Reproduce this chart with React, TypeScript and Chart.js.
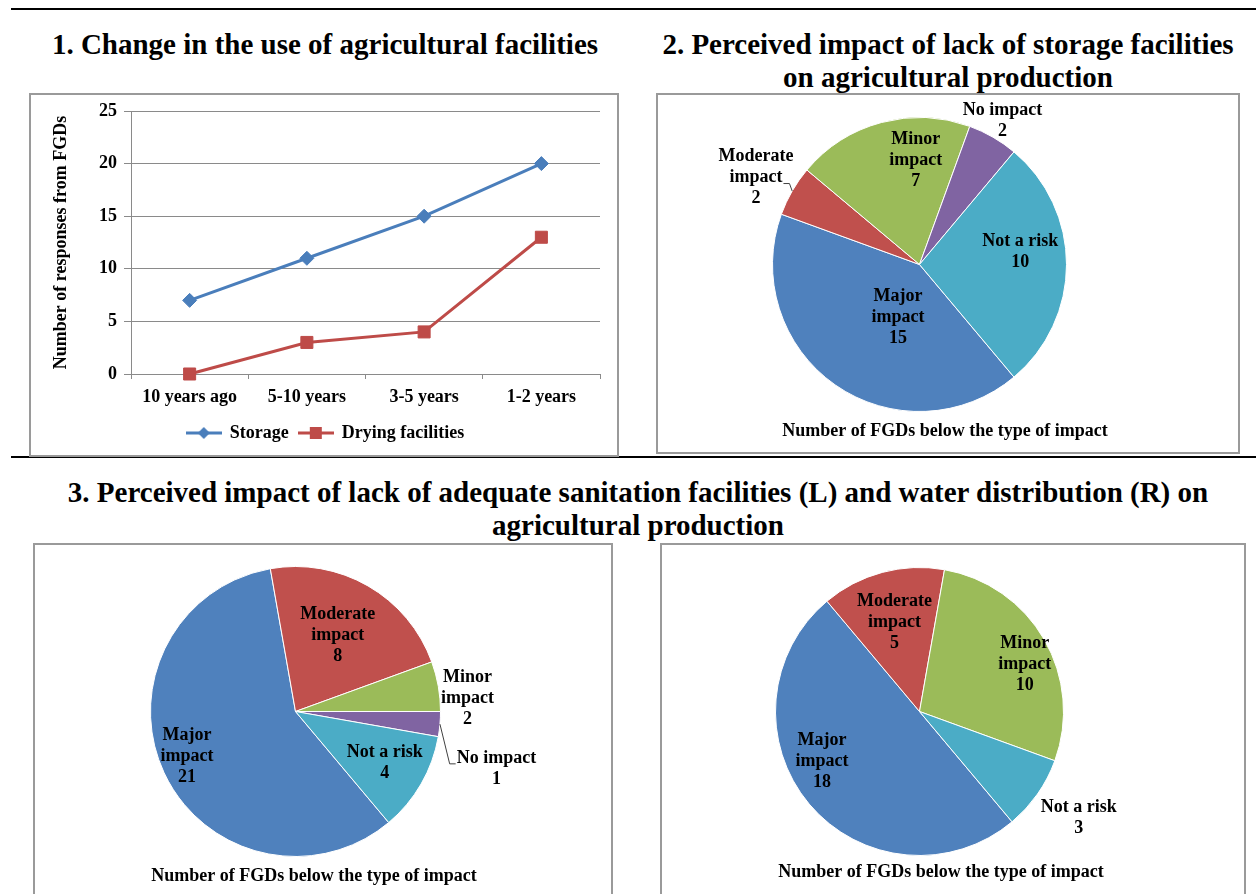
import React, { useEffect, useRef } from 'react';
import { Chart, registerables } from 'chart.js';

Chart.register(...registerables);

const FONT = '"Liberation Serif", "Times New Roman", serif';
Chart.defaults.font.family = FONT;
Chart.defaults.font.size = 18;
Chart.defaults.font.weight = 'bold';
Chart.defaults.color = '#000000';

// ---------- Chart 1 data ----------
const periods = ['10 years ago', '5-10 years', '3-5 years', '1-2 years'];
const storageValues = [7, 11, 15, 20];
const dryingValues = [0, 3, 4, 13];
const seriesNames = ['Storage', 'Drying facilities'];
const yAxisTitle = 'Number of responses from FGDs';

// ---------- Pie data ----------
const impactTypes = ['Major impact', 'Moderate impact', 'Minor impact', 'No impact', 'Not a risk'];
const storageImpact = [15, 2, 7, 2, 10];
const sanitationImpact = [21, 8, 2, 1, 4];
const waterImpact = [18, 5, 10, 0, 3];
const pieCaption = 'Number of FGDs below the type of impact';

// ---------- Titles ----------
const title1 = '1. Change in the use of agricultural facilities';
const title2 = ['2. Perceived impact of lack of storage facilities', 'on agricultural production'];
const title3 = [
  '3. Perceived impact of lack of adequate sanitation facilities (L) and water distribution (R) on',
  'agricultural production',
];

// ---------- Styles ----------
const impactColors = ['#4F81BD', '#C0504D', '#9BBB59', '#8064A2', '#4BACC6'];
const STORAGE_COLOR = '#4A7EBB';
const DRYING_COLOR = '#BE4B48';
const GRID = '#8a8a8a';
const BOX_BORDER = '2px solid #9a9a9a';

type LabelPos = { da: number; dr: number; leaderLine?: number };

const wrapLabel = (s: string): string[] =>
  s.endsWith(' impact') && s !== 'No impact' ? s.split(' ') : [s];

const pieLabelPlugin = {
  id: 'pieLabels',
  afterDatasetsDraw(chart: any, _args: any, opts: any) {
    const { ctx } = chart;
    const meta = chart.getDatasetMeta(0);
    const values: number[] = chart.data.datasets[0].data;
    const names: string[] = chart.data.labels;
    const positions: LabelPos[] = opts.positions;
    const lh = 21;
    ctx.save();
    ctx.font = `bold 18px ${FONT}`;
    ctx.fillStyle = '#000';
    ctx.textAlign = 'center';
    ctx.textBaseline = 'middle';
    meta.data.forEach((arc: any, i: number) => {
      const v = values[i];
      if (!v) return;
      const p = arc.getProps(['x', 'y', 'startAngle', 'endAngle', 'outerRadius'], true);
      const pos = positions[i];
      const mid = (p.startAngle + p.endAngle) / 2;
      const a = mid + (pos.da * Math.PI) / 180;
      const d = p.outerRadius * pos.dr;
      const lx = p.x + Math.cos(a) * d;
      const ly = p.y + Math.sin(a) * d;
      const lines = [...wrapLabel(names[i]), String(v)];
      lines.forEach((t, k) => {
        ctx.fillText(t, lx, ly + (k - (lines.length - 1) / 2) * lh);
      });
      if (pos.leaderLine !== undefined) {
        const k = pos.leaderLine;
        const w = ctx.measureText(lines[k]).width;
        const yLine = ly + (k - (lines.length - 1) / 2) * lh + 6;
        const ex = p.x + Math.cos(mid) * p.outerRadius;
        const ey = p.y + Math.sin(mid) * p.outerRadius;
        const right = ex > lx;
        const endX = right ? lx + w / 2 + 1 : lx - w / 2 - 1;
        const elbowX = right ? endX + 6 : endX - 6;
        ctx.strokeStyle = '#404040';
        ctx.lineWidth = 1;
        ctx.beginPath();
        ctx.moveTo(ex, ey);
        ctx.lineTo(elbowX, yLine);
        ctx.lineTo(endX, yLine);
        ctx.stroke();
      }
    });
    if (opts.caption) {
      ctx.fillText(opts.caption, opts.captionX, opts.captionY);
    }
    ctx.restore();
  },
};

function makeMarker(color: string, kind: 'diamond' | 'square'): HTMLCanvasElement {
  const c = document.createElement('canvas');
  c.width = 36;
  c.height = 14;
  const g = c.getContext('2d')!;
  g.strokeStyle = color;
  g.lineWidth = 3;
  g.beginPath();
  g.moveTo(0, 7);
  g.lineTo(36, 7);
  g.stroke();
  g.fillStyle = color;
  if (kind === 'diamond') {
    g.beginPath();
    g.moveTo(18, 1);
    g.lineTo(24, 7);
    g.lineTo(18, 13);
    g.lineTo(12, 7);
    g.closePath();
    g.fill();
  } else {
    g.fillRect(12, 1, 12, 12);
  }
  return c;
}

type Box = { left: number; top: number; width: number; height: number };

function Framed({ box, children }: { box: Box; children: React.ReactNode }) {
  return (
    <>
      <div style={{ position: 'absolute', left: box.left, top: box.top, width: box.width, height: box.height }}>
        {children}
      </div>
      <div
        style={{
          position: 'absolute',
          left: box.left,
          top: box.top,
          width: box.width,
          height: box.height,
          border: BOX_BORDER,
          boxSizing: 'border-box',
          pointerEvents: 'none',
        }}
      />
    </>
  );
}

function LineChartBox({ box }: { box: Box }) {
  const ref = useRef<HTMLCanvasElement>(null);
  useEffect(() => {
    const markers = [makeMarker(STORAGE_COLOR, 'diamond'), makeMarker(DRYING_COLOR, 'square')];
    const chart = new Chart(ref.current!, {
      type: 'line',
      data: {
        labels: periods,
        datasets: [
          {
            label: seriesNames[0],
            data: storageValues,
            borderColor: STORAGE_COLOR,
            backgroundColor: STORAGE_COLOR,
            borderWidth: 3,
            pointStyle: 'rectRot',
            pointRadius: 7,
            pointBorderWidth: 1,
            tension: 0,
            clip: false as any,
          },
          {
            label: seriesNames[1],
            data: dryingValues,
            borderColor: DRYING_COLOR,
            backgroundColor: DRYING_COLOR,
            borderWidth: 3,
            pointStyle: 'rect',
            pointRadius: 8.5,
            pointBorderWidth: 1,
            tension: 0,
            clip: false as any,
          },
        ],
      },
      options: {
        responsive: false,
        animation: false,
        layout: { padding: { left: 22, right: 19, top: 18, bottom: 5 } },
        scales: {
          x: {
            offset: true,
            grid: { offset: true, drawOnChartArea: false, drawTicks: true, tickLength: 5, color: GRID },
            border: { color: GRID, width: 1 },
            ticks: { padding: 8, color: '#000' },
            afterFit: (s: any) => {
              s.height = 40;
            },
          },
          y: {
            min: 0,
            max: 25,
            ticks: { stepSize: 5, padding: 7, color: '#000' },
            grid: { color: GRID, tickLength: 7 },
            border: { color: GRID, width: 1 },
            title: { display: true, text: yAxisTitle, padding: 0, color: '#000' },
            afterFit: (s: any) => {
              s.width = 80;
            },
          },
        },
        plugins: {
          legend: {
            position: 'bottom',
            labels: {
              usePointStyle: true,
              pointStyleWidth: 34,
              padding: 10,
              color: '#000',
              generateLabels: (c: any) => {
                const items = (Chart.defaults.plugins.legend.labels as any).generateLabels(c);
                items.forEach((it: any, i: number) => {
                  it.pointStyle = markers[i];
                });
                return items;
              },
            },
          },
          tooltip: { enabled: false },
        },
      } as any,
    });
    return () => chart.destroy();
  }, []);
  return (
    <Framed box={box}>
      <canvas ref={ref} width={box.width} height={box.height} style={{ width: box.width, height: box.height, display: 'block' }} />
    </Framed>
  );
}

function PieBox({
  box,
  values,
  positions,
  padding,
  captionX,
  captionY,
}: {
  box: Box;
  values: number[];
  positions: LabelPos[];
  padding: { left: number; right: number; top: number; bottom: number };
  captionX: number;
  captionY: number;
}) {
  const ref = useRef<HTMLCanvasElement>(null);
  useEffect(() => {
    const chart = new Chart(ref.current!, {
      type: 'pie',
      data: {
        labels: impactTypes,
        datasets: [
          {
            data: values,
            backgroundColor: impactColors,
            borderColor: '#ffffff',
            borderWidth: 1,
          },
        ],
      },
      options: {
        responsive: false,
        animation: false,
        rotation: 140,
        layout: { padding },
        plugins: {
          legend: { display: false },
          tooltip: { enabled: false },
          pieLabels: { positions, caption: pieCaption, captionX, captionY },
        },
      } as any,
      plugins: [pieLabelPlugin],
    });
    return () => chart.destroy();
  }, []);
  return (
    <Framed box={box}>
      <canvas ref={ref} width={box.width} height={box.height} style={{ width: box.width, height: box.height, display: 'block' }} />
    </Framed>
  );
}

const titleStyle: React.CSSProperties = {
  position: 'absolute',
  fontFamily: FONT,
  fontWeight: 'bold',
  fontSize: 29,
  textAlign: 'center',
  whiteSpace: 'nowrap',
  color: '#000',
};

const storagePos: LabelPos[] = [
  { da: -13, dr: 0.39 },
  { da: -2, dr: 1.26, leaderLine: 1 },
  { da: 13, dr: 0.71 },
  { da: 0, dr: 1.13 },
  { da: -7, dr: 0.69 },
];
const sanitationPos: LabelPos[] = [
  { da: 2.6, dr: 0.81 },
  { da: -1, dr: 0.6 },
  { da: 5.7, dr: 1.19 },
  { da: 10.8, dr: 1.44, leaderLine: 0 },
  { da: 0, dr: 0.71 },
];
const waterPos: LabelPos[] = [
  { da: 13, dr: 0.76 },
  { da: -0.7, dr: 0.64 },
  { da: 6, dr: 0.8 },
  { da: 0, dr: 1 },
  { da: -1.3, dr: 1.33 },
];

export default function App() {
  return (
    <div
      style={{
        position: 'absolute',
        left: 0,
        top: 0,
        width: 1256,
        height: 894,
        overflow: 'hidden',
        background: '#ffffff',
      }}
    >
      <div style={{ position: 'absolute', left: 11, top: 8, width: 1245, height: 2, background: '#000' }} />
      <div style={{ position: 'absolute', left: 11, top: 456, width: 1245, height: 2, background: '#000' }} />

      <div style={{ ...titleStyle, left: 0, width: 650, top: 28, lineHeight: '32px' }}>{title1}</div>
      <div style={{ ...titleStyle, left: 648, width: 600, top: 28, lineHeight: '33px' }}>
        {title2[0]}
        <br />
        {title2[1]}
      </div>
      <div style={{ ...titleStyle, left: 0, width: 1276, top: 476, lineHeight: '33px' }}>
        {title3[0]}
        <br />
        {title3[1]}
      </div>

      <LineChartBox box={{ left: 29, top: 93, width: 590, height: 364 }} />
      <PieBox
        box={{ left: 656, top: 93, width: 584, height: 361 }}
        values={storageImpact}
        positions={storagePos}
        padding={{ left: 116, right: 173, top: 24, bottom: 42 }}
        captionX={289}
        captionY={338}
      />
      <PieBox
        box={{ left: 33, top: 543, width: 580, height: 360 }}
        values={sanitationImpact}
        positions={sanitationPos}
        padding={{ left: 117, right: 172, top: 23, bottom: 46 }}
        captionX={281}
        captionY={333}
      />
      <PieBox
        box={{ left: 660, top: 543, width: 586, height: 360 }}
        values={waterImpact}
        positions={waterPos}
        padding={{ left: 115, right: 182, top: 24, bottom: 47 }}
        captionX={281}
        captionY={329}
      />
    </div>
  );
}
